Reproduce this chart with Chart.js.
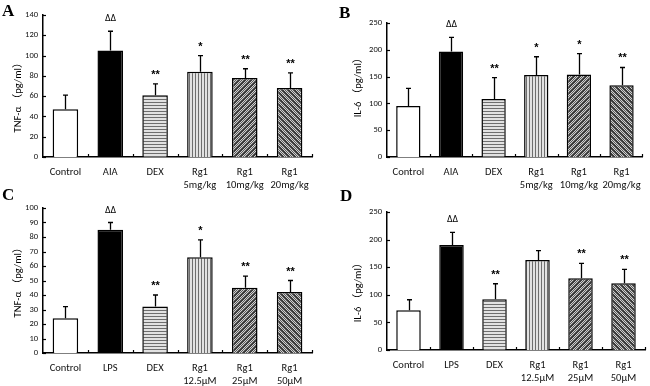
<!DOCTYPE html>
<html>
<head>
<meta charset="utf-8">
<script src="https://cdn.jsdelivr.net/npm/chart.js@4.4.1/dist/chart.umd.min.js"></script>
<style>
  html, body { margin: 0; padding: 0; background: #fff; }
  #wrap { position: relative; width: 650px; height: 386px; overflow: hidden; }
  canvas { position: absolute; }
  .lbl { position: absolute; font-family: "Liberation Serif", serif; font-weight: bold; font-size: 17px; line-height: 17px; color: #000; }
</style>
</head>
<body>
<div id="wrap">
  <canvas id="cA" width="325" height="193" style="left:0;top:0"></canvas>
  <canvas id="cB" width="325" height="193" style="left:325px;top:0"></canvas>
  <canvas id="cC" width="325" height="193" style="left:0;top:193px"></canvas>
  <canvas id="cD" width="325" height="193" style="left:325px;top:193px"></canvas>
  <div class="lbl" style="left:2px;top:2px">A</div>
  <div class="lbl" style="left:339px;top:4px">B</div>
  <div class="lbl" style="left:2px;top:186px">C</div>
  <div class="lbl" style="left:340px;top:187px">D</div>
</div>
<script>
// ---------- data ----------
const categoriesAB = ["Control", "AIA", "DEX", ["Rg1", "5mg/kg"], ["Rg1", "10mg/kg"], ["Rg1", "20mg/kg"]];
const categoriesCD = ["Control", "LPS", "DEX", ["Rg1", "12.5\u00B5M"], ["Rg1", "25\u00B5M"], ["Rg1", "50\u00B5M"]];

const tnfVivo = [47, 105, 61, 84, 78, 68];
const tnfVivoErr = [14, 19, 11, 16, 9, 15];
const tnfVivoMarks = ["", "\u0394\u0394", "**", "*", "**", "**"];

const il6Vivo = [95, 197, 108, 153, 154, 134];
const il6VivoErr = [33, 26, 40, 34, 39, 33];
const il6VivoMarks = ["", "\u0394\u0394", "**", "*", "*", "**"];

const tnfVitro = [24, 85, 32, 66, 45, 42];
const tnfVitroErr = [8, 5, 8, 12, 8, 8];
const tnfVitroMarks = ["", "\u0394\u0394", "**", "*", "**", "**"];

const il6Vitro = [72, 190, 92, 163, 130, 121];
const il6VitroErr = [19, 23, 28, 17, 27, 25];
const il6VitroMarks = ["", "\u0394\u0394", "**", "", "**", "**"];

const tnfTicks = { max: 140, step: 20 };
const il6Ticks = { max: 250, step: 50 };
const tnfTicksC = { max: 100, step: 10 };

// ---------- patterns ----------
function tile(w, h, fn) {
  const c = document.createElement('canvas');
  c.width = w; c.height = h;
  const g = c.getContext('2d');
  for (let y = 0; y < h; y++) for (let x = 0; x < w; x++) {
    g.fillStyle = fn(x, y); g.fillRect(x, y, 1, 1);
  }
  return g.createPattern(c, 'repeat');
}
function fills(ctx) {
  return [
    '#ffffff',
    '#000000',
    tile(3, 3, (x, y) => y === 0 ? '#6e6e6e' : '#e2e2e2'),
    tile(3, 3, (x, y) => x === 0 ? '#6e6e6e' : '#e2e2e2'),
    tile(6, 6, (x, y) => (((x + y) % 6) < 2) ? '#3a3a3a' : (((x + y) % 2) ? '#5a5a5a' : '#cfcfcf')),
    tile(6, 6, (x, y) => ((((x - y) % 6 + 6) % 6) < 2) ? '#3a3a3a' : (((x + y) % 2) ? '#5a5a5a' : '#cfcfcf'))
  ];
}

const FONT = "Carlito, Lato, 'Liberation Sans', 'Noto Sans CJK SC', sans-serif";

const decor = {
  id: 'decor',
  afterDatasetsDraw(chart) {
    const p = chart.options.plugins.decor;
    const ctx = chart.ctx, xs = chart.scales.x, ys = chart.scales.y, ca = chart.chartArea;
    ctx.save();
    ctx.strokeStyle = '#000';
    ctx.fillStyle = '#000';
    ctx.lineWidth = 1.3;
    // error bars and marks
    p.values.forEach((v, i) => {
      const cx = Math.round(xs.getPixelForValue(i)) + 0.5;
      const y0 = ys.getPixelForValue(v);
      const y1 = ys.getPixelForValue(v + p.errs[i]);
      ctx.beginPath();
      ctx.moveTo(cx, y0); ctx.lineTo(cx, y1);
      ctx.moveTo(cx - 2.5, y1); ctx.lineTo(cx + 2.5, y1);
      ctx.stroke();
      const m = p.marks[i];
      if (m) {
        ctx.textAlign = 'center';
        ctx.textBaseline = 'alphabetic';
        if (m.indexOf('*') >= 0) {
          ctx.font = "bold 11px 'Liberation Sans', sans-serif";
          ctx.fillText(m, cx, y1 - 6);
        } else {
          ctx.font = "8px 'DejaVu Sans', sans-serif";
          ctx.fillText(m, cx, y1 - 10);
        }
      }
    });
    // inside ticks on y axis
    ctx.lineWidth = 1.2;
    ys.ticks.forEach((t, i) => {
      const py = Math.round(ys.getPixelForTick(i)) + 0.5;
      ctx.beginPath(); ctx.moveTo(ca.left, py); ctx.lineTo(ca.left + 3, py); ctx.stroke();
    });
    // ticks between categories on x axis
    const n = p.values.length;
    for (let i = 0; i < n; i++) {
      const px = i < n - 1 ? (xs.getPixelForTick(i) + xs.getPixelForTick(i + 1)) / 2 : ca.right - 0.5;
      const rx = Math.round(px) + 0.5;
      ctx.beginPath(); ctx.moveTo(rx, ca.bottom); ctx.lineTo(rx, ca.bottom - 3); ctx.stroke();
    }
    // y title
    ctx.translate(p.titleX, p.titleY);
    ctx.rotate(-Math.PI / 2);
    ctx.font = "10.5px " + FONT;
    ctx.textAlign = 'center';
    ctx.textBaseline = 'middle';
    ctx.fillStyle = '#000';
    ctx.fillText(p.title, 0, 0);
    ctx.restore();
  }
};

function makeChart(id, labels, values, errs, marks, tk, title, area, titlePos) {
  const canvas = document.getElementById(id);
  const ctx = canvas.getContext('2d');
  return new Chart(ctx, {
    type: 'bar',
    data: {
      labels: labels,
      datasets: [{
        data: values,
        backgroundColor: fills(ctx),
        borderColor: '#000',
        borderWidth: 1.5,
        borderSkipped: 'bottom',
        categoryPercentage: 1.0,
        barPercentage: 0.57
      }]
    },
    options: {
      responsive: false,
      animation: false,
      devicePixelRatio: 1,
      layout: { padding: { left: 0, right: 325 - area.right, top: area.top, bottom: 0 } },
      plugins: {
        legend: { display: false },
        tooltip: { enabled: false },
        decor: { values, errs, marks, title, titleX: titlePos[0], titleY: titlePos[1] }
      },
      scales: {
        x: {
          grid: { display: false, drawTicks: false },
          border: { display: true, color: '#000', width: 1.5 },
          ticks: { color: '#111', font: { family: FONT, size: 10.5 }, padding: 9, maxRotation: 0, autoSkip: false },
          afterFit: (s) => { s.height = 193 - area.bottom; }
        },
        y: {
          min: 0, max: tk.max,
          grid: { display: false, drawTicks: false },
          border: { display: true, color: '#000', width: 1.5 },
          ticks: { stepSize: tk.step, color: '#111', font: { family: FONT, size: 8.5 }, padding: 5 },
          afterFit: (s) => { s.width = area.left; }
        }
      }
    },
    plugins: [decor]
  });
}

makeChart('cA', categoriesAB, tnfVivo, tnfVivoErr, tnfVivoMarks, tnfTicks, "TNF-\u03B1 \uFF08pg/ml\uFF09",
  { left: 43, right: 312, top: 15, bottom: 157 }, [18, 95]);
makeChart('cB', categoriesAB, il6Vivo, il6VivoErr, il6VivoMarks, il6Ticks, "IL-6 \uFF08pg/ml\uFF09",
  { left: 62, right: 320, top: 23, bottom: 157 }, [33, 85]);
makeChart('cC', categoriesCD, tnfVitro, tnfVitroErr, tnfVitroMarks, tnfTicksC, "TNF-\u03B1 \uFF08pg/ml\uFF09",
  { left: 43, right: 312, top: 15, bottom: 160 }, [18, 87]);
makeChart('cD', categoriesCD, il6Vitro, il6VitroErr, il6VitroMarks, il6Ticks, "IL-6 \uFF08pg/ml\uFF09",
  { left: 62, right: 320, top: 19, bottom: 157 }, [33, 97]);
</script>
</body>
</html>
